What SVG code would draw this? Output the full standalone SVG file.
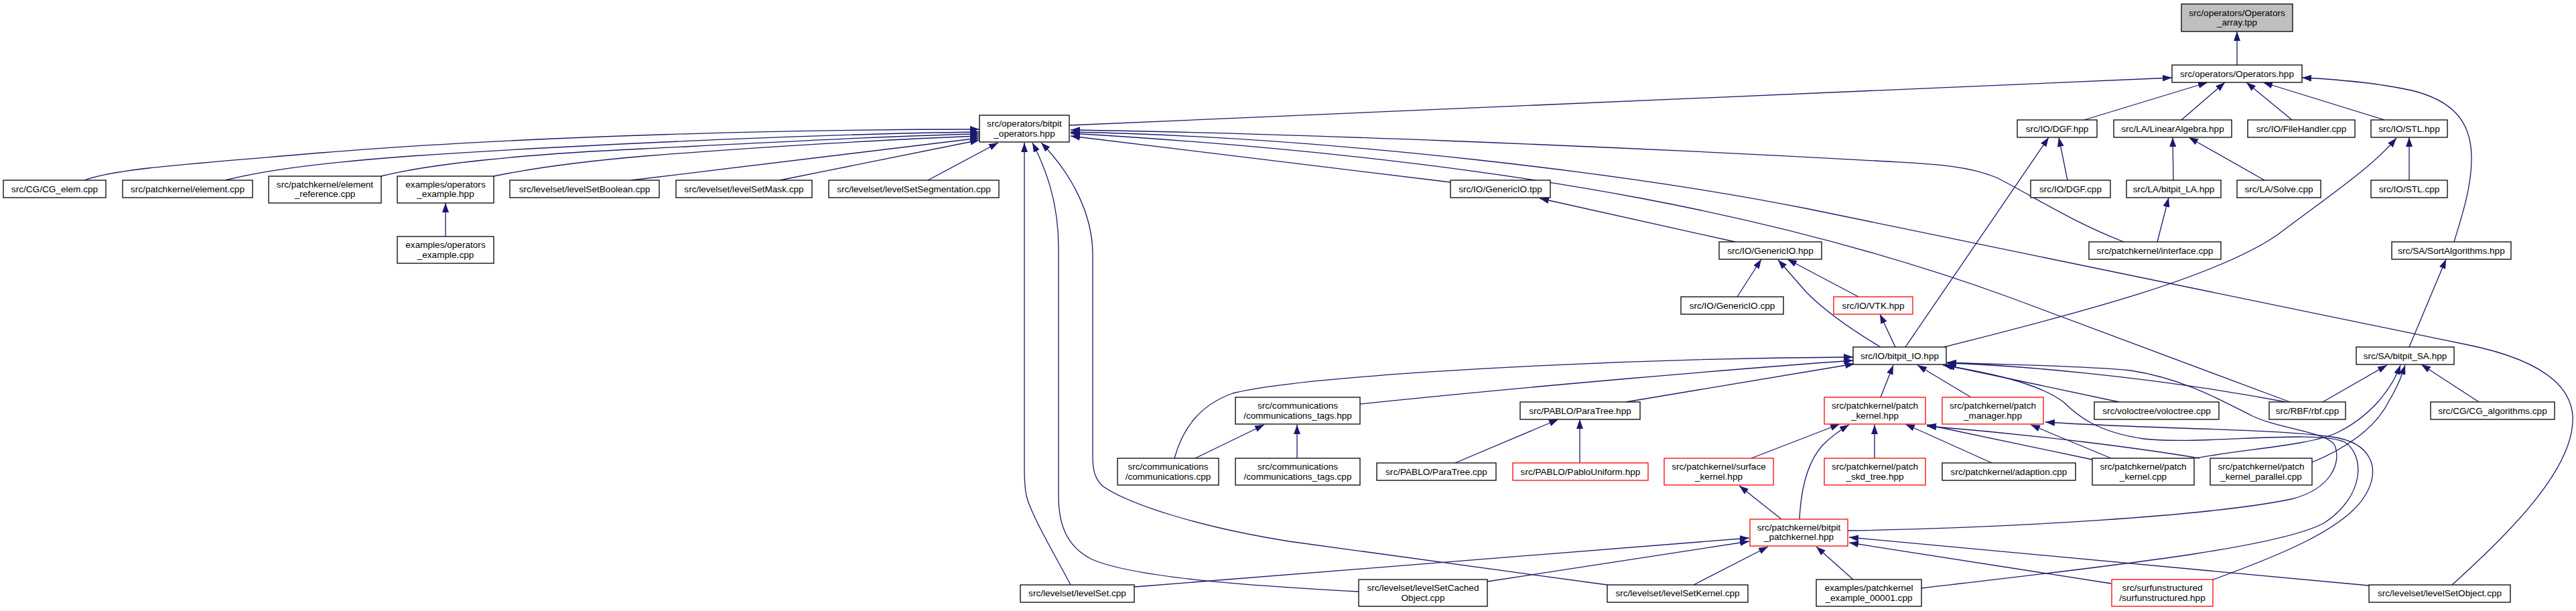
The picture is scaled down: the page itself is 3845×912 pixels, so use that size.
<svg xmlns="http://www.w3.org/2000/svg" width="3845" height="912" viewBox="0 0 3845 912">
<style>
.n rect{fill:#fff;stroke:#000;stroke-width:1.3}
.n.r rect{stroke:#f00}
.n.g rect{fill:#bfbfbf}
text{font-family:"Liberation Sans",Arial,sans-serif;font-size:13.6px;text-anchor:middle;fill:#000}
.e path{fill:none;stroke:#191970;stroke-width:1.3;marker-end:url(#a)}
</style>
<defs><marker id="a" markerUnits="userSpaceOnUse" viewBox="0 0 14 10" markerWidth="14" markerHeight="10" refX="14" refY="5" orient="auto"><path d="M0,0L14,5L0,10z" fill="#191970"/></marker></defs>
<rect width="3845" height="912" fill="#fff"/>
<g id="connectors" class="e">
<path d="M3339,97 L3339,47"/>
<path d="M1596,187 L3242,116"/>
<path d="M3111,179 L3295,123"/>
<path d="M3256,179 L3321,123"/>
<path d="M3421,179 L3353,123"/>
<path d="M3559,179 L3378,123"/>
<path d="M3663,361 C3672,330 3690,280 3689,233 C3688,180 3660,150 3600,135 C3540,122 3480,118 3436,116"/>
<path d="M3086,269 L3073,205"/>
<path d="M2844,518 L3058,205"/>
<path d="M3244,269 L3243,205"/>
<path d="M3380,269 L3267,205"/>
<path d="M3596,269 L3596,205"/>
<path d="M2902,518 C3050,480 3300,420 3400,350 C3480,290 3540,250 3577,206"/>
<path d="M3220,361 L3237,295"/>
<path d="M3170,361 C3090,330 3030,290 2980,265 C2930,245 2880,245 2800,240 C2400,218 1900,198 1598,194"/>
<path d="M3660,873 C3740,800 3845,700 3840,620 C3835,560 3760,530 3680,514 L2700,312 C2450,262 2000,205 1598,197"/>
<path d="M3418,600 L3000,444 C2700,335 2300,240 1598,199"/>
<path d="M2165,272 L1598,203"/>
<path d="M126,269 C170,252 280,245 480,228 C800,202 1200,193 1462,193"/>
<path d="M336,269 C380,258 450,245 613,233 C800,220 1200,200 1462,197"/>
<path d="M569,263 C640,245 780,230 962,222 C1200,210 1350,202 1462,200"/>
<path d="M737,263 C800,250 880,240 962,233 C1150,218 1350,207 1462,203"/>
<path d="M942,269 L1462,206"/>
<path d="M1164,269 L1462,209"/>
<path d="M1385,269 L1490,213"/>
<path d="M665,353 L665,303"/>
<path d="M1598,873 C1570,820 1540,770 1532,740 C1529,725 1529,715 1529,700 L1529,213"/>
<path d="M2028,883 C1900,876 1700,865 1630,835 C1590,815 1580,780 1580,740 L1580,370 C1580,300 1560,250 1541,213"/>
<path d="M2399,873 L1924,808 C1780,785 1680,750 1645,725 C1633,712 1631,700 1631,680 L1631,380 C1631,320 1600,260 1554,213"/>
<path d="M2590,361 L2298,296"/>
<path d="M2593,443 L2629,387"/>
<path d="M2774,443 L2668,387"/>
<path d="M2807,518 C2760,490 2720,460 2697,437 C2680,418 2665,400 2654,388"/>
<path d="M2829,518 L2806,469"/>
<path d="M1753,684 C1765,640 1790,605 1840,587 C1950,560 2400,535 2766,533"/>
<path d="M2030,603 C2300,575 2600,550 2766,538"/>
<path d="M2427,600 L2768,543"/>
<path d="M2807,593 L2826,545"/>
<path d="M2942,593 L2862,545"/>
<path d="M3163,600 L2904,545"/>
<path d="M3412,600 C3200,560 3000,545 2906,542"/>
<path d="M2758,792 C3000,788 3300,770 3420,745 C3480,730 3495,690 3485,665 C3475,645 3400,640 3360,620 C3320,600 3260,565 3180,553 C3100,545 3000,545 2906,541"/>
<path d="M2868,878 C3100,850 3400,820 3470,780 C3530,740 3530,680 3500,660 C3460,640 3280,665 3200,655 C3130,645 3100,620 3080,600 C3040,570 2960,555 2900,545"/>
<path d="M3301,866 C3400,830 3500,790 3530,740 C3555,700 3540,660 3480,652 C3400,640 3200,640 3053,630"/>
<path d="M1784,684 L1887,634"/>
<path d="M1936,684 L1936,634"/>
<path d="M2172,691 L2326,626"/>
<path d="M2358,691 L2358,626"/>
<path d="M2614,684 L2746,633"/>
<path d="M2798,684 L2798,634"/>
<path d="M2659,775 L2596,725"/>
<path d="M2686,775 C2688,730 2698,690 2720,665 C2735,650 2750,640 2760,634"/>
<path d="M2973,691 L2844,633"/>
<path d="M3123,686 L2876,634"/>
<path d="M3283,684 C3200,670 3050,650 2876,636"/>
<path d="M3151,684 L3031,634"/>
<path d="M3277,684 C3350,670 3450,665 3490,645 C3540,620 3570,580 3583,545"/>
<path d="M3451,690 C3500,670 3545,640 3565,600 C3580,575 3585,560 3590,545"/>
<path d="M3467,600 L3563,545"/>
<path d="M3700,600 L3614,544"/>
<path d="M3596,518 L3651,387"/>
<path d="M1693,876 L2611,803"/>
<path d="M2220,868 L2611,808"/>
<path d="M2528,873 L2639,816"/>
<path d="M2766,865 L2711,816"/>
<path d="M3536,874 L2760,802"/>
<path d="M3151,871 L2760,810"/>
</g>
<g id="nodes">
<g id="root" class="n g"><rect x="3256" y="6" width="166" height="41"/><text x="3339" y="24">src/operators/Operators</text><text x="3339" y="38">_array.tpp</text></g>
<g id="ops" class="n"><rect x="3242" y="97" width="194" height="26"/><text x="3339" y="115">src/operators/Operators.hpp</text></g>
<g id="bops" class="n"><rect x="1462" y="172" width="134" height="40"/><text x="1529" y="189">src/operators/bitpit</text><text x="1529" y="204">_operators.hpp</text></g>
<g id="dgfh" class="n"><rect x="3011" y="179" width="119" height="26"/><text x="3070.5" y="197">src/IO/DGF.hpp</text></g>
<g id="la" class="n"><rect x="3155" y="179" width="176" height="26"/><text x="3243" y="197">src/LA/LinearAlgebra.hpp</text></g>
<g id="fh" class="n"><rect x="3355" y="179" width="160" height="26"/><text x="3435" y="197">src/IO/FileHandler.cpp</text></g>
<g id="stlh" class="n"><rect x="3539" y="179" width="114" height="26"/><text x="3596" y="197">src/IO/STL.hpp</text></g>
<g id="cgelem" class="n"><rect x="5" y="269" width="153" height="26"/><text x="81.5" y="287">src/CG/CG_elem.cpp</text></g>
<g id="elem" class="n"><rect x="183" y="269" width="194" height="26"/><text x="280" y="287">src/patchkernel/element.cpp</text></g>
<g id="elemref" class="n"><rect x="401" y="263" width="168" height="40"/><text x="485" y="280">src/patchkernel/element</text><text x="485" y="294">_reference.cpp</text></g>
<g id="opexh" class="n"><rect x="593" y="263" width="144" height="40"/><text x="665" y="280">examples/operators</text><text x="665" y="294">_example.hpp</text></g>
<g id="lsbool" class="n"><rect x="761" y="269" width="223" height="26"/><text x="872.5" y="287">src/levelset/levelSetBoolean.cpp</text></g>
<g id="lsmask" class="n"><rect x="1009" y="269" width="203" height="26"/><text x="1110.5" y="287">src/levelset/levelSetMask.cpp</text></g>
<g id="lsseg" class="n"><rect x="1237" y="269" width="254" height="26"/><text x="1364" y="287">src/levelset/levelSetSegmentation.cpp</text></g>
<g id="gtpp" class="n"><rect x="2165" y="269" width="149" height="26"/><text x="2239.5" y="287">src/IO/GenericIO.tpp</text></g>
<g id="dgfc" class="n"><rect x="3031" y="269" width="119" height="26"/><text x="3090.5" y="287">src/IO/DGF.cpp</text></g>
<g id="bla" class="n"><rect x="3174" y="269" width="141" height="26"/><text x="3244.5" y="287">src/LA/bitpit_LA.hpp</text></g>
<g id="solve" class="n"><rect x="3339" y="269" width="125" height="26"/><text x="3401.5" y="287">src/LA/Solve.cpp</text></g>
<g id="stlc" class="n"><rect x="3539" y="269" width="114" height="26"/><text x="3596" y="287">src/IO/STL.cpp</text></g>
<g id="opexc" class="n"><rect x="593" y="353" width="144" height="40"/><text x="665" y="370">examples/operators</text><text x="665" y="385">_example.cpp</text></g>
<g id="gioh" class="n"><rect x="2566" y="361" width="153" height="26"/><text x="2642.5" y="379">src/IO/GenericIO.hpp</text></g>
<g id="iface" class="n"><rect x="3118" y="361" width="197" height="26"/><text x="3216.5" y="379">src/patchkernel/interface.cpp</text></g>
<g id="sort" class="n"><rect x="3570" y="361" width="178" height="26"/><text x="3659" y="379">src/SA/SortAlgorithms.hpp</text></g>
<g id="gioc" class="n"><rect x="2509" y="443" width="153" height="26"/><text x="2585.5" y="461">src/IO/GenericIO.cpp</text></g>
<g id="vtk" class="n r"><rect x="2737" y="443" width="118" height="26"/><text x="2796" y="461">src/IO/VTK.hpp</text></g>
<g id="bio" class="n"><rect x="2766" y="518" width="139" height="26"/><text x="2835.5" y="536">src/IO/bitpit_IO.hpp</text></g>
<g id="bsa" class="n"><rect x="3517" y="518" width="146" height="26"/><text x="3590" y="536">src/SA/bitpit_SA.hpp</text></g>
<g id="commtagsh" class="n"><rect x="1844" y="593" width="186" height="40"/><text x="1937" y="610">src/communications</text><text x="1937" y="625">/communications_tags.hpp</text></g>
<g id="ptreeh" class="n"><rect x="2269" y="600" width="179" height="26"/><text x="2358.5" y="618">src/PABLO/ParaTree.hpp</text></g>
<g id="pkh" class="n r"><rect x="2723" y="593" width="151" height="40"/><text x="2798.5" y="610">src/patchkernel/patch</text><text x="2798.5" y="625">_kernel.hpp</text></g>
<g id="pmh" class="n r"><rect x="2899" y="593" width="151" height="40"/><text x="2974.5" y="610">src/patchkernel/patch</text><text x="2974.5" y="625">_manager.hpp</text></g>
<g id="volo" class="n"><rect x="3126" y="600" width="186" height="26"/><text x="3219" y="618">src/voloctree/voloctree.cpp</text></g>
<g id="rbf" class="n"><rect x="3387" y="600" width="114" height="26"/><text x="3444" y="618">src/RBF/rbf.cpp</text></g>
<g id="cgalg" class="n"><rect x="3628" y="600" width="185" height="26"/><text x="3720.5" y="618">src/CG/CG_algorithms.cpp</text></g>
<g id="commc" class="n"><rect x="1668" y="684" width="151" height="40"/><text x="1743.5" y="701">src/communications</text><text x="1743.5" y="716">/communications.cpp</text></g>
<g id="commtagsc" class="n"><rect x="1844" y="684" width="186" height="40"/><text x="1937" y="701">src/communications</text><text x="1937" y="716">/communications_tags.cpp</text></g>
<g id="ptreec" class="n"><rect x="2055" y="691" width="178" height="26"/><text x="2144" y="709">src/PABLO/ParaTree.cpp</text></g>
<g id="pablou" class="n r"><rect x="2258" y="691" width="202" height="26"/><text x="2359" y="709">src/PABLO/PabloUniform.hpp</text></g>
<g id="surfk" class="n r"><rect x="2484" y="684" width="163" height="40"/><text x="2565.5" y="701">src/patchkernel/surface</text><text x="2565.5" y="716">_kernel.hpp</text></g>
<g id="skd" class="n r"><rect x="2723" y="684" width="151" height="40"/><text x="2798.5" y="701">src/patchkernel/patch</text><text x="2798.5" y="716">_skd_tree.hpp</text></g>
<g id="adapt" class="n"><rect x="2899" y="691" width="199" height="26"/><text x="2998.5" y="709">src/patchkernel/adaption.cpp</text></g>
<g id="pkc" class="n"><rect x="3123" y="684" width="152" height="40"/><text x="3199" y="701">src/patchkernel/patch</text><text x="3199" y="716">_kernel.cpp</text></g>
<g id="pkpc" class="n"><rect x="3299" y="684" width="152" height="40"/><text x="3375" y="701">src/patchkernel/patch</text><text x="3375" y="716">_kernel_parallel.cpp</text></g>
<g id="bpk" class="n r"><rect x="2612" y="775" width="146" height="40"/><text x="2685" y="792">src/patchkernel/bitpit</text><text x="2685" y="806">_patchkernel.hpp</text></g>
<g id="lset" class="n"><rect x="1523" y="873" width="170" height="26"/><text x="1608" y="890">src/levelset/levelSet.cpp</text></g>
<g id="lscache" class="n"><rect x="2028" y="865" width="192" height="40"/><text x="2124" y="882">src/levelset/levelSetCached</text><text x="2124" y="897">Object.cpp</text></g>
<g id="lskern" class="n"><rect x="2399" y="873" width="210" height="26"/><text x="2504" y="890">src/levelset/levelSetKernel.cpp</text></g>
<g id="pkex" class="n"><rect x="2711" y="865" width="157" height="40"/><text x="2789.5" y="882">examples/patchkernel</text><text x="2789.5" y="897">_example_00001.cpp</text></g>
<g id="surfu" class="n r"><rect x="3152" y="865" width="151" height="40"/><text x="3227.5" y="882">src/surfunstructured</text><text x="3227.5" y="897">/surfunstructured.hpp</text></g>
<g id="lsobj" class="n"><rect x="3536" y="873" width="211" height="26"/><text x="3641.5" y="890">src/levelset/levelSetObject.cpp</text></g>
</g>
</svg>
